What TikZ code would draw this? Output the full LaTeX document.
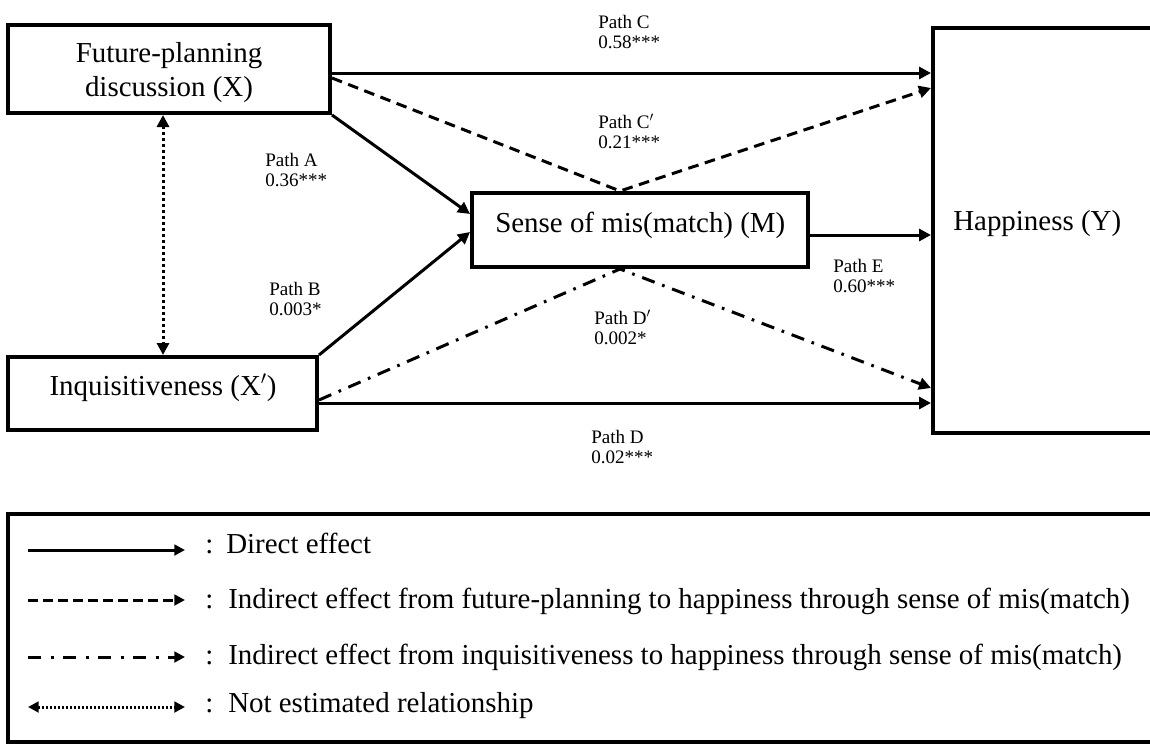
\documentclass[tikz,border=0pt]{standalone}
\usepackage{fontspec}
\setmainfont{Liberation Serif}
\usetikzlibrary{arrows.meta}
\begin{document}
\begin{tikzpicture}[x=0.75pt,y=-0.75pt,
  box/.style={draw,line width=3pt,inner sep=0pt},
  main/.style={font=\fontsize{21.7pt}{25.5pt}\selectfont, inner sep=0pt},
  lab/.style={font=\fontsize{14.3pt}{15pt}\selectfont, inner sep=0pt, anchor=base west, align=left},
  tip/.tip={Triangle[length=9pt,width=9pt]},
  ltip/.tip={Triangle[length=8pt,width=8pt]},
  conn/.style={line width=2.25pt, -tip},
  dashconn/.style={conn, dash pattern=on 8pt off 5pt},
  dashdotconn/.style={conn, dash pattern=on 10pt off 6pt on 2pt off 6pt},
  dotconn/.style={line width=2.25pt, tip-tip, dash pattern=on 2.25pt off 2.25pt},
  lconn/.style={line width=2.25pt, -ltip},
]
\useasboundingbox (0,0) rectangle (1150,743);
\clip (0,0) rectangle (1150,743);

% boxes
\node[box, minimum width=241.5pt, minimum height=66pt] (X) at (169,69) {};
\node[box, minimum width=231.75pt, minimum height=54.75pt] (Xp) at (162.5,393.5) {};
\node[box, minimum width=252pt, minimum height=55.5pt] (M) at (640,230) {};
\node[box, minimum width=170.25pt, minimum height=303.75pt] (Y) at (1046.5,230.5) {};

% box texts
\node[main, align=center] (Xt) at (169,73) {Future-planning\\discussion (X)};
\node[main, anchor=base] (Xpt) at (163,395) {Inquisitiveness (X$^{\prime}$)};
\node[main, anchor=base west] (Mt) at (495,232) {Sense of mis(match) (M)};
\node[main, anchor=base west] (Yt) at (953,230) {Happiness (Y)};

% connectors
\draw[conn] (X.east |- 0,73) -- (Y.west |- 0,73);
\draw[dashconn] (X.east |- 0,78) -- (M.north -| 620,0) -- (Y.west |- 0,88);
\draw[conn] (X.south east) -- (M.west |- 0,214);
\draw[conn] (Xp.north east) -- (M.west |- 0,232);
\draw[conn] (M.east |- 0,235) -- (Y.west |- 0,235);
\draw[conn] (Xp.east |- 0,403) -- (Y.west |- 0,403);
\draw[dashdotconn] (Xp.east |- 0,400) -- (M.south -| 620,0) -- (Y.west |- 0,388);
\draw[dotconn] (X.south -| 163,0) -- (Xp.north -| 163,0);

% path labels (base = baseline of the second line)
\node[lab] (lC) at (598,48) {Path C\\0.58***};
\node[lab] (lCp) at (598,148) {Path C$^{\prime}$\\0.21***};
\node[lab] (lA) at (265,186) {Path A\\0.36***};
\node[lab] (lB) at (269,315) {Path B\\0.003*};
\node[lab] (lE) at (833,292) {Path E\\0.60***};
\node[lab] (lDp) at (594,344) {Path D$^{\prime}$\\0.002*};
\node[lab] (lD) at (591,463) {Path D\\0.02***};

% legend
\node[box, minimum width=864pt, minimum height=171pt] (L) at (584,628) {};
\coordinate (a1) at (28,550); \coordinate (b1) at (185,550);
\coordinate (a2) at (28,600); \coordinate (b2) at (185,600);
\coordinate (a3) at (28,657); \coordinate (b3) at (185,657);
\coordinate (a4) at (28,707); \coordinate (b4) at (185,707);
\draw[lconn] (a1) -- (b1);
\draw[lconn, dash pattern=on 7.5pt off 3.75pt] (a2) -- (b2);
\draw[lconn, dash pattern=on 10pt off 7pt on 2.25pt off 7pt] (a3) -- (b3);
\draw[lconn, ltip-ltip, dash pattern=on 1.5pt off 1.5pt] (a4) -- (b4);
\node[main, anchor=base west] (c1) at (205,553) {:};
\node[main, anchor=base west] (c2) at (205,608) {:};
\node[main, anchor=base west] (c3) at (205,664) {:};
\node[main, anchor=base west] (c4) at (205,712) {:};
\node[main, anchor=base west] (t1) at (226,553) {Direct effect};
\node[main, anchor=base west] (t2) at (228,608) {Indirect effect from future-planning to happiness through sense of mis(match)};
\node[main, anchor=base west] (t3) at (228,664) {Indirect effect from inquisitiveness to happiness through sense of mis(match)};
\node[main, anchor=base west] (t4) at (228,712) {Not estimated relationship};
\end{tikzpicture}
\end{document}
